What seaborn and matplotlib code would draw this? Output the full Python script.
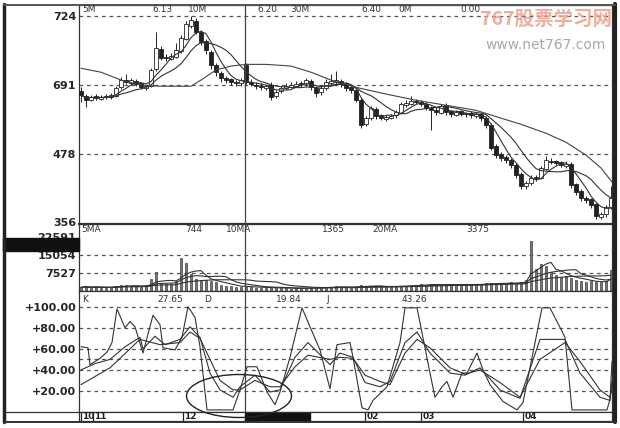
import numpy as np
import pandas as pd
import matplotlib
matplotlib.use('Agg')
import matplotlib.pyplot as plt
from matplotlib.patches import Ellipse, Rectangle
import seaborn as sns

# daily candles (price in 0.01 units)
opens = [590, 582, 575, 581, 577, 579, 580, 582, 597, 610,
         605, 609, 604, 596, 600, 630, 666, 652, 648, 652,
         662, 684, 706, 715, 696, 680, 660, 636, 622, 614,
         611, 607, 604, 636, 607, 602, 600, 596, 602, 582,
         590, 596, 598, 600, 605, 604, 608, 596, 588, 596,
         605, 606, 609, 604, 597, 592, 575, 532, 542, 558,
         547, 541, 543, 547, 552, 566, 568, 573, 571, 567,
         560, 557, 552, 565, 554, 548, 554, 550, 551, 546,
         550, 543, 530, 492, 478, 472, 468, 459, 442, 420,
         427, 437, 436, 452, 466, 465, 463, 457, 461, 424,
         412, 400, 397, 388, 366, 370, 384]
closes = [583, 574, 580, 578, 580, 581, 583, 596, 610, 606,
          610, 603, 597, 599, 628, 667, 649, 649, 653, 663,
          685, 710, 717, 695, 678, 663, 637, 624, 613, 610,
          606, 605, 610, 606, 603, 599, 597, 599, 580, 588,
          596, 599, 601, 603, 603, 610, 597, 587, 596, 606,
          608, 610, 603, 596, 592, 574, 530, 542, 560, 546,
          542, 544, 546, 553, 567, 569, 572, 571, 567, 560,
          556, 553, 563, 553, 549, 553, 549, 549, 548, 549,
          542, 530, 489, 476, 471, 467, 458, 441, 421, 426,
          435, 435, 453, 467, 464, 462, 458, 460, 423, 410,
          399, 396, 387, 367, 371, 383, 399]
highs = [598, 585, 584, 585, 583, 585, 587, 599, 616, 620,
         614, 612, 606, 602, 632, 695, 670, 656, 658, 676,
         690, 716, 724, 720, 699, 684, 663, 640, 626, 618,
         614, 610, 614, 640, 611, 606, 604, 603, 606, 592,
         600, 604, 606, 608, 609, 614, 612, 600, 600, 612,
         620, 626, 612, 607, 600, 595, 578, 546, 564, 561,
         550, 548, 550, 557, 571, 574, 582, 577, 574, 571,
         563, 561, 567, 569, 557, 556, 557, 553, 555, 553,
         553, 546, 533, 495, 481, 476, 471, 462, 445, 430,
         440, 441, 457, 474, 470, 468, 466, 466, 464, 427,
         415, 403, 400, 391, 375, 387, 420]
lows = [570, 562, 572, 574, 574, 576, 577, 579, 594, 603,
        602, 599, 594, 592, 598, 626, 645, 644, 645, 650,
        659, 681, 703, 692, 672, 657, 630, 617, 606, 604,
        602, 600, 600, 603, 599, 594, 593, 592, 575, 578,
        586, 593, 595, 597, 598, 600, 592, 580, 584, 592,
        602, 602, 598, 590, 586, 570, 524, 528, 538, 541,
        538, 537, 540, 543, 549, 562, 565, 567, 563, 556,
        521, 548, 549, 548, 544, 545, 545, 544, 543, 542,
        537, 525, 485, 470, 466, 462, 453, 436, 416, 416,
        423, 430, 433, 449, 460, 458, 454, 453, 418, 405,
        394, 391, 382, 362, 362, 366, 380]
volumes = [1500, 2000, 1200, 1800, 1400, 1300, 1600, 2200, 2600, 2400,
           2000, 1900, 1700, 2500, 5000, 7800, 3500, 3000, 2800, 4000,
           13800, 11600, 7200, 5200, 4600, 4400, 4200, 3800, 2600, 2200,
           2000, 1800, 1600, 2200, 1500, 1400, 1300, 1200, 1600, 1300,
           1200, 1100, 1000, 1200, 1100, 1300, 1400, 1300, 1500, 1800,
           1600, 2000, 1700, 1500, 1400, 1800, 2600, 2200, 2000, 1900,
           1800, 1700, 1900, 1800, 2200, 2000, 2400, 2600, 2800, 2500,
           3000, 2600, 2400, 2800, 2600, 2900, 2700, 2500, 2800, 2600,
           3000, 3200, 3400, 3000, 3300, 3100, 3600, 3400, 3800, 4600,
           21000, 9000, 11300, 10500, 8000, 6500, 5800, 6200, 5600, 4800,
           4200, 3800, 4000, 3600, 3900, 4200, 8600]

# 30-day average (it carries history from before the window)
ma30_idx = [0, 4, 8, 12, 16, 22, 24, 27, 30, 33, 37, 42, 46, 50, 55, 61, 67, 73,
            79, 84, 88, 93, 97, 101, 104, 106.2]
ma30_val = [631, 624, 610, 601, 599, 599, 610, 628, 635, 638, 638, 635, 624, 610,
            597, 585, 574, 565, 556, 542, 531, 515, 499, 476, 453, 428]

# KDJ lines
j_idx = [0, 1.4, 1.8, 3.8, 5.2, 6.2, 7.2, 8.8, 9.8, 10.8, 12.4, 14.4, 15.8, 16.4,
         18.8, 20.2, 21.4, 22.8, 23.8, 25.2, 30.4, 31.8, 33.2, 35.2, 37.2, 38.8,
         39.8, 41.8, 44.2, 45.8, 47.8, 49.8, 51.2, 53.8, 54.4, 56.2, 57.4, 58.4,
         61.2, 63.8, 64.8, 67.2, 68.8, 69.8, 70.8, 72.2, 73.2, 74.4, 76.2, 77.2,
         79.2, 80.4, 81.8, 84.4, 87.2, 88.4, 92.2, 93.8, 96.8, 98.2, 105.2, 105.8,
         106.2]
j_val = [62, 61, 45, 51, 57, 66, 98, 80, 86, 81, 56, 92, 83, 61,
         59, 71, 100, 90, 62, 2, 2, 21, 43, 43, 19, 7,
         19, 52, 99, 81, 59, 22, 64, 66, 52, 4, 2, 11,
         24, 66, 99, 99, 61, 37, 14, 24, 29, 14, 37, 37,
         56, 40, 26, 10, 2, 9, 99, 99, 71, 2, 2, 12,
         48]
k_idx = [0, 2.8, 5.8, 8.8, 11.8, 12.4, 14.8, 16.8, 19.8, 21.8, 23.8, 25.8, 27.8,
         30.4, 31.8, 34.8, 37.8, 39.8, 42.8, 45.4, 49.8, 51.8, 54.4, 56.8, 59.8,
         61.8, 64.8, 67.2, 69.8, 73.8, 76.8, 79.8, 83.8, 87.8, 91.8, 96.8, 99.8,
         103.8, 105.8, 106.2]
k_val = [40, 46, 50, 62, 71, 60, 72, 64, 69, 81, 71, 37, 21,
         14, 24, 35, 19, 21, 52, 66, 45, 56, 52, 28, 24,
         29, 66, 76, 56, 37, 35, 42, 21, 13, 69, 69, 37,
         14, 11, 30]
d_idx = [0, 5.8, 11.8, 15.8, 19.8, 21.8, 23.8, 25.8, 27.8, 30.4, 31.8, 34.8, 37.8,
         39.8, 42.8, 45.4, 49.8, 51.8, 54.4, 56.8, 59.8, 61.8, 64.8, 67.2, 69.8,
         73.8, 76.8, 79.8, 83.8, 87.8, 91.8, 96.8, 99.8, 103.8, 105.8, 106.2]
d_val = [26, 42, 69, 64, 66, 76, 70, 50, 30, 21, 21, 30, 24,
         24, 43, 54, 50, 52, 51, 35, 29, 26, 56, 69, 61,
         42, 36, 40, 28, 14, 50, 66, 48, 21, 14, 22]

price_ticks = [724, 601, 478, 356]
price_tick_labels = ['724', '691', '478', '356']
price_grid = [724, 601, 478]
vol_ticks = [22591, 15054, 7527]
vol_grid = [15054, 7527]
kdj_ticks = [100, 80, 60, 40, 20]
kdj_tick_labels = ['+100.00', '+80.00', '+60.00', '+40.00', '+20.00']
kdj_grid = [100, 80, 60, 50, 40, 20]
month_idx = [-0.2, 2.2, 20.2, 56.6, 67.8, 88.2]
month_labels = ['10', '11', '12', '02', '03', '04']

price_header = ['5M', '6.13', '10M', '6.20', '30M', '6.40', '0M', '0.00']
price_header_x = [82, 152, 188, 257, 290, 361, 398, 460]
vol_header = ['5MA', '744', '10MA', '1365', '20MA', '3375']
vol_header_x = [81, 185, 226, 322, 372, 466]
kdj_header = ['K', '27.65', 'D', '19.84', 'J', '43.26']
kdj_header_x = [82, 157, 204, 276, 326, 402]

cursor = 32.8

df = pd.DataFrame({'open': opens, 'close': closes, 'high': highs,
                   'low': lows, 'vol': volumes})
df['i'] = np.arange(len(df))
df['ma5'] = df['close'].rolling(5, min_periods=1).mean()
df['ma10'] = df['close'].rolling(10, min_periods=1).mean()
df['vma5'] = df['vol'].rolling(5, min_periods=1).mean()
df['vma10'] = df['vol'].rolling(10, min_periods=1).mean()
df['vma20'] = df['vol'].rolling(20, min_periods=1).mean()

sns.set_theme(style='white')
plt.rcParams['font.family'] = ['DejaVu Sans', 'Noto Sans CJK SC']

W, H = 620, 428
fig = plt.figure(figsize=(6.2, 4.28), dpi=100)


def box(top, bottom):
    return [79 / W, 1 - bottom / H, 533 / W, (bottom - top) / H]


ax_p = fig.add_axes(box(5, 224))
ax_v = fig.add_axes(box(224, 291))
ax_k = fig.add_axes(box(291, 412))
ax_d = fig.add_axes(box(412, 421))

ink = '#222222'
grid_kw = dict(color='#555555', lw=0.9, ls=(0, (3, 3)), zorder=0)

for ax in (ax_p, ax_v, ax_k, ax_d):
    ax.set_xlim(-0.4, 106.2)
    ax.set_xticks([])
    for s in ax.spines.values():
        s.set_color('#333333')
        s.set_linewidth(0.9)
    ax.tick_params(axis='y', length=0, pad=2, labelsize=8)

# price panel
up = df['close'] >= df['open']
body_bottom = df[['open', 'close']].min(axis=1)
body_h = (df['close'] - df['open']).abs().clip(lower=1.5)
ax_p.vlines(df['i'], df['low'], df['high'], color=ink, lw=0.7, zorder=2)
ax_p.bar(df['i'], body_h, bottom=body_bottom, width=0.62,
         color=np.where(up, 'white', ink), edgecolor=ink, linewidth=0.6, zorder=3)
sns.lineplot(x=df['i'], y=df['ma5'], ax=ax_p, color='#333333', lw=0.8, zorder=4)
sns.lineplot(x=df['i'], y=df['ma10'], ax=ax_p, color='#333333', lw=0.8, zorder=4)
sns.lineplot(x=ma30_idx, y=ma30_val, ax=ax_p, color='#444444', lw=0.8, zorder=4)
for g in price_grid:
    ax_p.axhline(g, **grid_kw)
ax_p.set_ylim(353, 744)
ax_p.set_yticks(price_ticks, price_tick_labels, fontweight='bold')
ax_p.spines['bottom'].set_linewidth(1.6)

# volume panel
ax_v.bar(df['i'], df['vol'], width=0.55, color='#777777', edgecolor=ink,
         linewidth=0.4, zorder=2)
for col in ('vma5', 'vma10', 'vma20'):
    sns.lineplot(x=df['i'], y=df[col], ax=ax_v, color='#333333', lw=0.8, zorder=3)
for g in vol_grid:
    ax_v.axhline(g, **grid_kw)
ax_v.set_ylim(0, 28000)
ax_v.set_yticks(vol_ticks, [str(v) for v in vol_ticks], fontweight='bold')

# KDJ panel
sns.lineplot(x=j_idx, y=j_val, ax=ax_k, color='#333333', lw=0.8)
sns.lineplot(x=k_idx, y=k_val, ax=ax_k, color='#333333', lw=0.8)
sns.lineplot(x=d_idx, y=d_val, ax=ax_k, color='#333333', lw=0.8)
for g in kdj_grid:
    ax_k.axhline(g, **grid_kw)
ax_k.set_ylim(0, 115)
ax_k.set_yticks(kdj_ticks, kdj_tick_labels, fontweight='bold')

for ax in (ax_p, ax_v, ax_k):
    ax.set_xlabel('')
    ax.set_ylabel('')
    ax.axvline(cursor, color='#444444', lw=0.9, zorder=5)

# date strip
ax_d.set_ylim(0, 1)
ax_d.set_yticks([])
ax_d.axvspan(cursor, 45.8, color='#111111')
for m, lab in zip(month_idx, month_labels):
    ax_d.vlines(m + 0.2, 0.05, 0.95, color=ink, lw=0.9)
    ax_d.text(m + 0.5, 0.45, lab, fontsize=6.5, fontweight='bold', va='center',
              ha='left', color=ink)

# header lines
for t, x in zip(price_header, price_header_x):
    fig.text(x / W, 1 - 10 / H, t, fontsize=6.5, va='center', ha='left', color='#333333')
for t, x in zip(vol_header, vol_header_x):
    fig.text(x / W, 1 - 230 / H, t, fontsize=6.5, va='center', ha='left', color='#333333')
for t, x in zip(kdj_header, kdj_header_x):
    fig.text(x / W, 1 - 299 / H, t, fontsize=6.5, va='center', ha='left', color='#333333')

# left black marker, outer frame, bottom strip line
fig.add_artist(Rectangle((3 / W, 1 - 251 / H), 76 / W, 13 / H,
                         transform=fig.transFigure, color='#111111'))
fig.add_artist(plt.Line2D([4 / W, 79 / W], [1 - 412 / H] * 2,
                          transform=fig.transFigure, color='#333333', lw=0.9))
fig.add_artist(plt.Line2D([4 / W, 4 / W], [1 - 422 / H, 1 - 4 / H],
                          transform=fig.transFigure, color='#222222', lw=2.5))
fig.add_artist(plt.Line2D([615 / W, 615 / W], [1 - 422 / H, 1 - 4 / H],
                          transform=fig.transFigure, color='#222222', lw=3))
fig.add_artist(plt.Line2D([4 / W, 615 / W], [1 - 4.5 / H] * 2,
                          transform=fig.transFigure, color='#555555', lw=1.4))
fig.add_artist(plt.Line2D([4 / W, 615 / W], [1 - 421.5 / H] * 2,
                          transform=fig.transFigure, color='#333333', lw=1.4))

# hand-drawn ellipse
fig.add_artist(Ellipse((239 / W, 1 - 396 / H), 105 / W, 43 / H,
                       transform=fig.transFigure, fill=False,
                       edgecolor='#222222', lw=1.0))

# watermark
fig.text(546 / W, 1 - 19 / H, '767股票学习网', fontsize=14, fontweight='bold',
         fontstyle='italic', color='#eba08a', alpha=0.85, ha='center', va='center',
         family=['Noto Sans CJK SC', 'DejaVu Sans'])
fig.text(546 / W, 1 - 45 / H, 'www.net767.com', fontsize=10, color='#a8a8a8',
         ha='center', va='center')

fig.savefig('out.png', dpi=100)
